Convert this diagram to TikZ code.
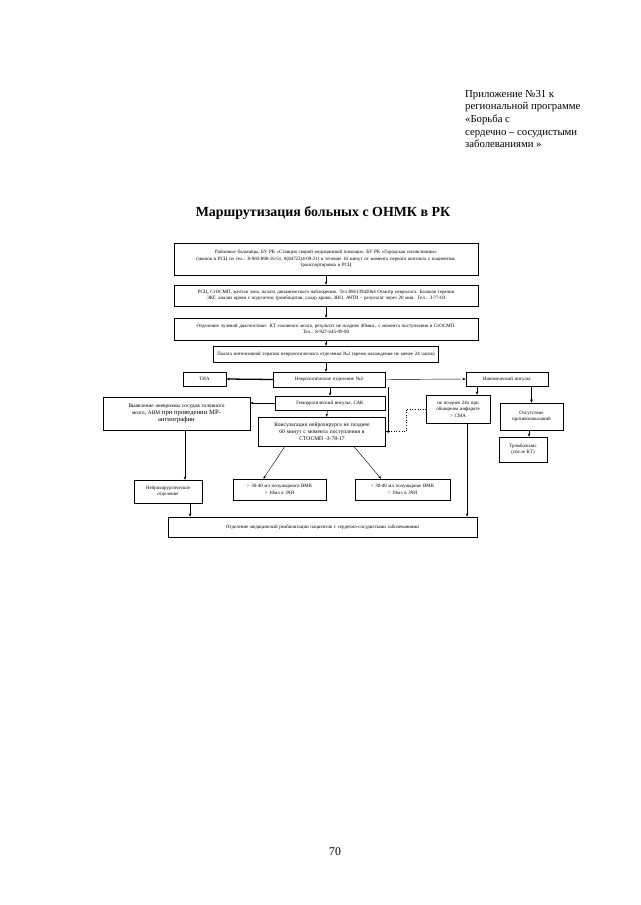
\documentclass[tikz,border=0pt]{standalone}
\usepackage{fontspec}
\setmainfont{Liberation Serif}
\usetikzlibrary{arrows.meta}

\begin{document}
\begin{tikzpicture}[x=0.0328cm,y=-0.0328cm,
  blk/.style={draw,line width=.5pt,inner sep=1pt,align=center,font=\fontsize{4.6}{6}\selectfont},
  arr/.style={-{Stealth[length=3pt,width=2.4pt]},line width=.4pt}]
\useasboundingbox (0,0) rectangle (640,905);
\node[anchor=north west,align=left,inner sep=0pt,font=\fontsize{10}{11.8}\selectfont](note)at(465,90){Приложение №31 к\\региональной программе\\«Борьба с\\сердечно – сосудистыми\\заболеваниями »};
\node[font=\bfseries\fontsize{13}{15}\selectfont](title)at(323,213){Маршрутизация больных с ОНМК в РК};
\node[blk,text width=9.9cm,minimum height=1.05cm](n1)at(326,259){Районные больницы, БУ РК «Станция скорой медицинской помощи», БУ РК «Городская поликлиника»\\(звонок в РСЦ по тел.: 8-960-898-16-51, 8(84722)4-09-21) в течение 10 минут от момента первого контакта с пациентом,\\транспортировка в РСЦ};
\node[blk,text width=9.9cm,minimum height=.69cm](n2)at(326,295.5){РСЦ, СтОСМП, желтая зона, палата динамического наблюдения. Тел 89613942064 Осмотр невролога. Базовая терапия\\ЭКГ, анализ крови с подсчетом тромбоцитов, сахар крови, ЗНО, АЧТВ – результат через 20 мин. Тел.: 3-77-03};
\node[blk,text width=9.9cm,minimum height=.72cm](n3)at(326,329){Отделение лучевой диагностики: КТ головного мозга, результат не позднее 40мин., с момента поступления в СтОСМП.\\Тел.: 8-927-645-09-90};
\node[blk,text width=7.3cm,minimum height=.52cm](n4)at(326,354){Палата интенсивной терапии неврологического отделения №2 (время нахождения не менее 24 часов)};
\node[blk,text width=3.6cm,minimum height=.49cm](neuro)at(329,379.5){Неврологическое отделение №2};
\node[blk,text width=1.35cm,minimum height=.46cm](tia)at(204.5,379){ТИА};
\node[blk,text width=2.62cm,minimum height=.46cm](isch)at(507,379){Ишемический инсульт};
\node[blk,text width=4.75cm,minimum height=1.08cm,font=\fontsize{5}{6.4}\selectfont](detect)at(176.5,413.5){Выявление аневризмы сосудов головного\\мозга, АВМ {\fontsize{6.2}{7}\selectfont при проведении МР-}\\{\fontsize{6.2}{7}\selectfont ангиографии}};
\node[blk,text width=3.54cm,minimum height=.46cm](hemo)at(330,403){Геморрагический инсульт, САК};
\node[blk,text width=4.1cm,minimum height=.95cm,font=\fontsize{5.2}{6.6}\selectfont](consult)at(322,431.5){Консультация нейрохирурга не позднее\\60 минут с момента поступления в\\СТОСМП -3-78-17};
\node[blk,text width=2.03cm,minimum height=.92cm](late)at(458,409){не позднее 24ч при обширном инфаркте\\> СМА};
\node[blk,text width=2cm,minimum height=.89cm](nocontra)at(531.5,416.5){Отсутствие противопоказаний};
\node[blk,text width=1.5cm,minimum height=.82cm](throm)at(523,449.5){Тромболизис (после КТ)};
\node[blk,text width=2.16cm,minimum height=.75cm](nsurg)at(168,491.5){Нейрохирургическое отделение};
\node[blk,text width=2.98cm,minimum height=.69cm](big)at(279.5,489.5){> 30-40 мл полушарного ВМК\\> 10мл в ЗЧЯ};
\node[blk,text width=3.05cm,minimum height=.69cm](small)at(402.5,489.5){< 30-40 мл полушарное ВМК\\< 10мл в ЗЧЯ};
\node[blk,text width=10.07cm,minimum height=.66cm](rehab)at(322.5,527){Отделение медицинской реабилитации пациентов с сердечно-сосудистыми заболеваниями};
\node[font=\fontsize{11}{13}\selectfont](page)at(335,852){70};
\draw[arr](n1)--(n2);\draw[arr](n2)--(n3);\draw[arr](n3)--(n4);\draw[arr](n4.south)--(n4.south|-neuro.north);
\draw[arr,line width=1.2pt](neuro.west)--(tia.east);\draw[arr](neuro.east)--(isch.west);
\draw[arr](neuro.south-|hemo)--(hemo.north);\draw[arr](hemo.west)--(hemo.west-|detect.east);
\draw[arr](hemo)--(consult);
\draw[arr](isch.south-|477,0)--(late.north-|477,0);\draw[arr](isch.south-|nocontra)--(nocontra.north);
\draw[arr](nocontra.south-|529,0)--(throm.north-|529,0);
\draw[line width=.9pt]([xshift=3]neuro.south east)--([xshift=3]neuro.south east|-consult.east);
\draw[arr,dotted](late.west)--++(-20,0)|-(consult.east);
\draw[arr]([xshift=25]consult.south west)--([xshift=-15]big.north);
\draw[arr]([xshift=-30]consult.south east)--([xshift=-20]small.north);
\draw[arr](detect.south-|185,0)--(nsurg.north-|185,0);
\draw[arr](nsurg.south-|190,0)--(rehab.north-|190,0);
\draw[arr](late.south-|467,0)--(rehab.north-|467,0);
\end{tikzpicture}
\end{document}
